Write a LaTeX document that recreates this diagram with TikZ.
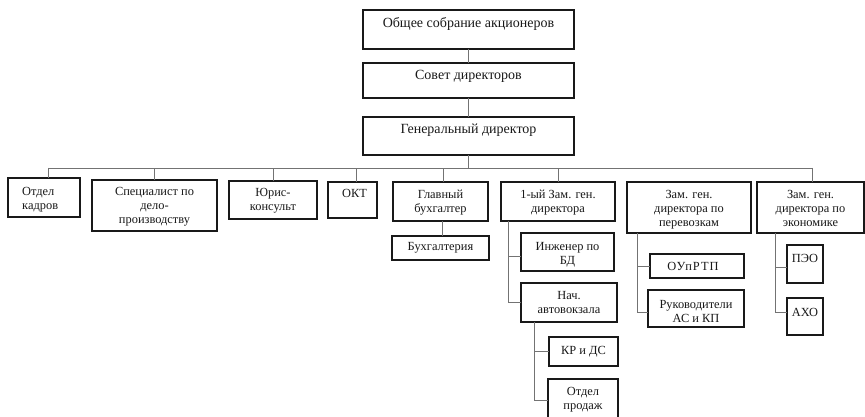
\documentclass[tikz,border=0pt]{standalone}
\usepackage{fontspec}
\setmainfont{Liberation Serif}
\begin{document}
\begin{tikzpicture}[x=1pt,y=-1pt,
  boxst/.style={draw=black!90,line width=1.3pt,inner sep=0pt,outer sep=0pt,anchor=north west},
  conn/.style={draw=black!55,line width=0.8pt},
  txt/.style={font=\fontsize{12.4}{14}\selectfont,align=center,inner sep=0pt,anchor=north,text=black!90},
  txtbig/.style={txt,font=\fontsize{14}{16}\selectfont},
  txtl/.style={txt,align=left,anchor=north west}]
\useasboundingbox (0,0) rectangle (865,417);
\fill[white] (0,0) rectangle (865,417);
\newcommand{\bx}[5]{\node[boxst,minimum width={#4-#2},minimum height={#5-#3}] (#1) at (#2,#3) {};}
% boxes
\bx{A}{363}{10}{574}{49}
\bx{B}{363}{63}{574}{98}
\bx{C}{363}{117}{574}{155}
\bx{D}{8}{178}{80}{217}
\bx{E}{92}{180}{217}{231}
\bx{F}{229}{181}{317}{219}
\bx{G}{328}{182}{377}{218}
\bx{H}{393}{182}{488}{221}
\bx{I}{392}{236}{489}{260}
\bx{J}{501}{182}{615}{221}
\bx{K}{521}{233}{614}{271}
\bx{L}{521}{283}{617}{322}
\bx{M}{549}{337}{618}{366}
\bx{N}{548}{379}{618}{428}
\bx{O}{627}{182}{751}{233}
\bx{P}{650}{254}{744}{278}
\bx{Q}{648}{290}{744}{327}
\bx{R}{757}{182}{864}{233}
\bx{S}{787}{245}{823}{283}
\bx{T}{787}{298}{823}{335}
% texts
\node[txtbig] at ([yshift=-6]A.north) {\strut Общее собрание акционеров};
\node[txtbig] at ([yshift=-5]B.north) {\strut Совет директоров};
\node[txtbig] at ([yshift=-5]C.north) {\strut Генеральный директор};
\node[txtl] at ([xshift=14,yshift=-7]D.north west) {\strut Отдел\\кадров};
\node[txt] at ([yshift=-5]E.north) {\strut Специалист по\\дело-\\производству};
\node[txt] at ([yshift=-6]F.north) {\strut Юрис-\\консульт};
\node[txtl] at ([xshift=14,yshift=-5]G.north west) {\strut ОКТ};
\node[txt] at ([yshift=-6]H.north) {\strut Главный\\бухгалтер};
\node[txt] at ([yshift=-4]I.north) {\strut Бухгалтерия};
\node[txt] at ([yshift=-6]J.north) {\strut 1-ый Зам. ген.\\директора};
\node[txt] at ([yshift=-7]K.north) {\strut Инженер по\\БД};
\node[txt] at ([yshift=-6]L.north) {\strut Нач.\\автовокзала};
\node[txt] at ([yshift=-7]M.north) {\strut КР и ДС};
\node[txt] at ([yshift=-6]N.north) {\strut Отдел\\продаж};
\node[txt] at ([yshift=-6]O.north) {\strut Зам. ген.\\директора по\\перевозкам};
\node[txt] at ([xshift=-4,yshift=-6]P.north) {\strut\addfontfeature{LetterSpace=8}ОУпРТП};
\node[txt] at ([yshift=-8]Q.north) {\strut Руководители\\АС и КП};
\node[txt] at ([yshift=-6]R.north) {\strut Зам. ген.\\директора по\\экономике};
\node[txt] at ([yshift=-7]S.north) {\strut ПЭО};
\node[txt] at ([yshift=-8]T.north) {\strut АХО};
% connectors
\coordinate (busL) at (48,168);
\coordinate (busR) at (812,168);
\draw[conn] (A.south) -- (B.north);
\draw[conn] (B.south) -- (C.north);
\draw[conn] (C.south) -- (C.south |- busL);
\draw[conn] (busL) -- (busR);
\draw[conn] (busL) -- (busL |- D.north);
\draw[conn] (E.north) -- (E.north |- busL);
\draw[conn] (F.north) -- (F.north |- busL);
\draw[conn] ([xshift=3.5]G.north) -- ([xshift=3.5]G.north |- busL);
\draw[conn] ([xshift=2.5]H.north) -- ([xshift=2.5]H.north |- busL);
\draw[conn] (J.north) -- (J.north |- busL);
\draw[conn] (busR) -- (busR |- R.north);
\draw[conn] ([xshift=1.5]H.south) -- ([xshift=1.5]H.south |- I.north);
\draw[conn] ([xshift=7]J.south west) |- ([yshift=-4]K.west);
\draw[conn] ([xshift=7]J.south west) |- (L.west);
\draw[conn] ([xshift=13]L.south west) |- (M.west);
\draw[conn] ([xshift=13]L.south west) |- ([yshift=3]N.west);
\draw[conn] ([xshift=10]O.south west) |- (P.west);
\draw[conn] ([xshift=10]O.south west) |- ([yshift=-3.5]Q.west);
\draw[conn] ([xshift=18]R.south west) |- ([yshift=-3]S.west);
\draw[conn] ([xshift=18]R.south west) |- ([yshift=4.5]T.west);
\end{tikzpicture}
\end{document}
